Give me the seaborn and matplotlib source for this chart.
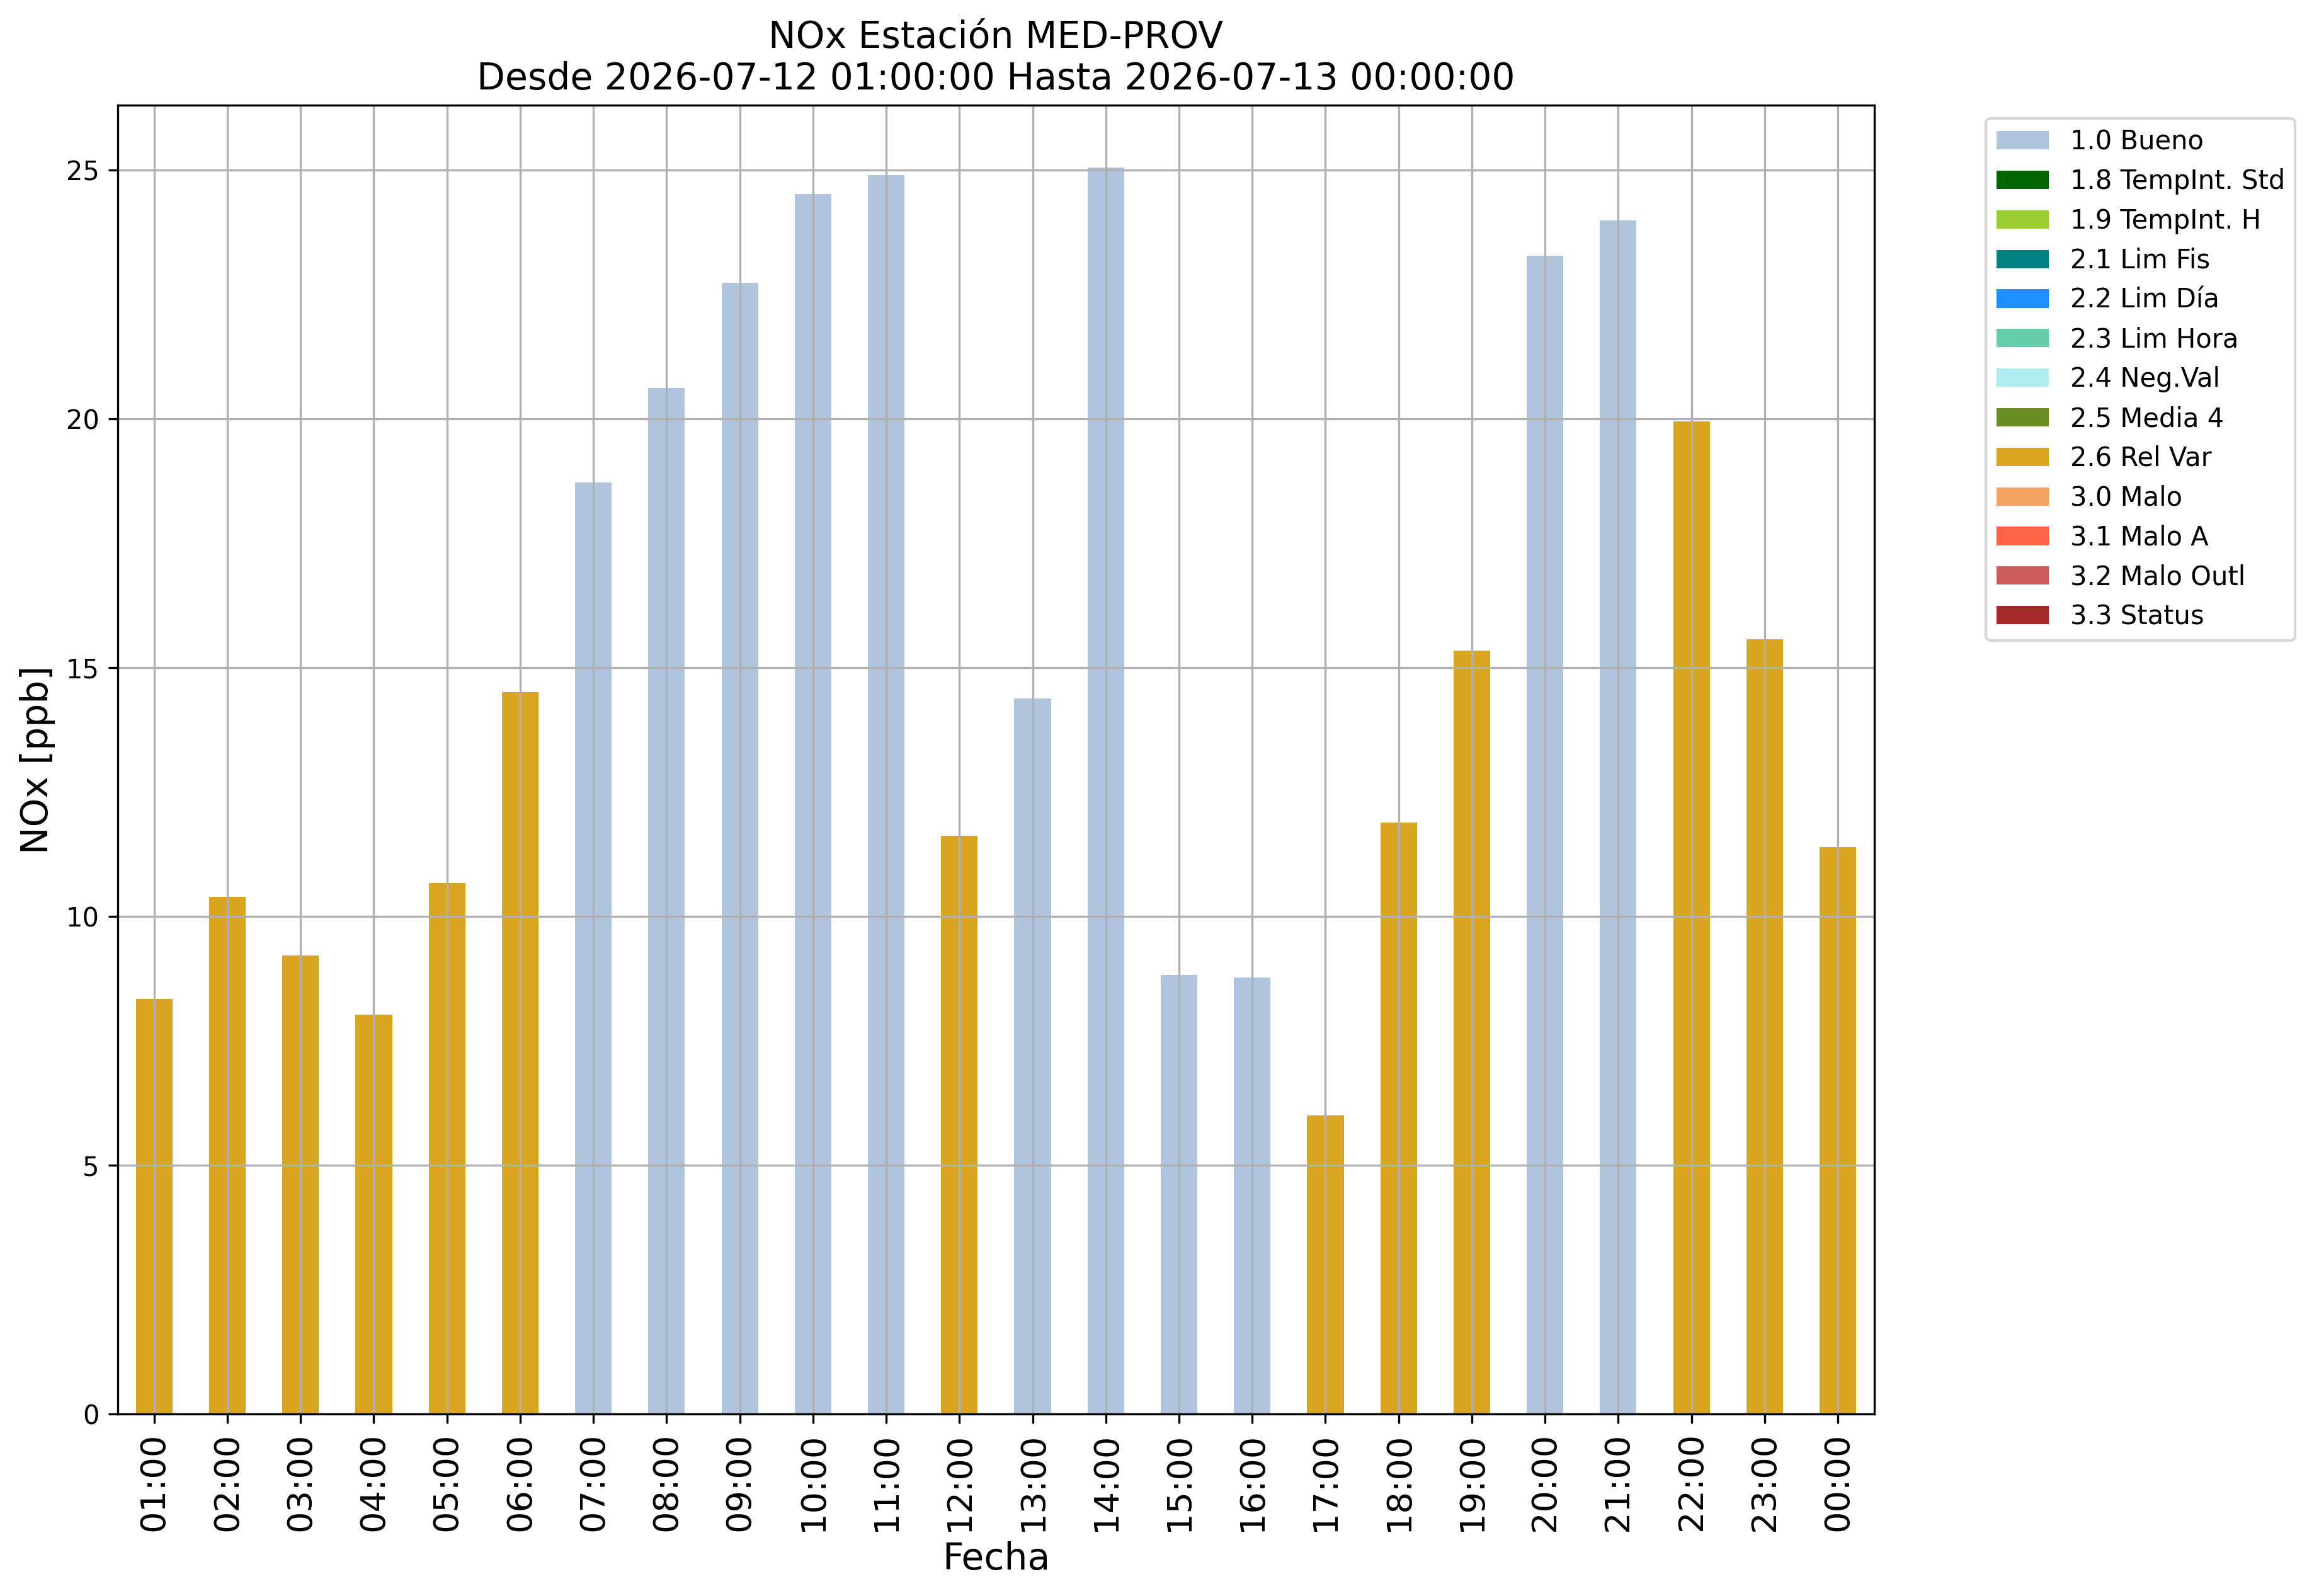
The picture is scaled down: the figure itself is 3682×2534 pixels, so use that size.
import matplotlib
matplotlib.use("Agg")
import matplotlib.pyplot as plt
import matplotlib.patches as mpatches
import pandas as pd
import seaborn as sns

### hourly data
hours = ["01:00", "02:00", "03:00", "04:00", "05:00", "06:00", "07:00", "08:00",
         "09:00", "10:00", "11:00", "12:00", "13:00", "14:00", "15:00", "16:00",
         "17:00", "18:00", "19:00", "20:00", "21:00", "22:00", "23:00", "00:00"]
nox = [8.35, 10.40, 9.22, 8.03, 10.67, 14.51, 18.73, 20.63,
       22.74, 24.52, 24.91, 11.62, 14.39, 25.06, 8.83, 8.77,
       6.00, 11.89, 15.34, 23.28, 23.99, 19.95, 15.58, 11.39]
flags = ["2.6 Rel Var"] * 6 + ["1.0 Bueno"] * 5 + ["2.6 Rel Var"] + ["1.0 Bueno"] * 4 \
        + ["2.6 Rel Var"] * 3 + ["1.0 Bueno"] * 2 + ["2.6 Rel Var"] * 3

### flag legend (all flags are listed, even the unused ones)
flag_labels = ["1.0 Bueno", "1.8 TempInt. Std", "1.9 TempInt. H", "2.1 Lim Fis",
               "2.2 Lim Día", "2.3 Lim Hora", "2.4 Neg.Val", "2.5 Media 4",
               "2.6 Rel Var", "3.0 Malo", "3.1 Malo A", "3.2 Malo Outl", "3.3 Status"]
flag_colors = ["lightsteelblue", "darkgreen", "yellowgreen", "teal",
               "dodgerblue", "mediumaquamarine", "paleturquoise", "olivedrab",
               "goldenrod", "sandybrown", "tomato", "indianred", "brown"]

df = pd.DataFrame({"Fecha": hours, "NOx": nox, "flag": flags})
palette = dict(zip(flag_labels, flag_colors))

plt.rcParams["font.family"] = ["DejaVu Sans"]
fig = plt.figure(figsize=(3682 / 300, 2534 / 300), dpi=300)
ax = fig.add_axes([0.0507, 0.114, 0.7576, 0.8202])

sns.barplot(data=df, x="Fecha", y="NOx", hue="flag", order=hours, hue_order=flag_labels,
            palette=palette, dodge=False, width=0.5, saturation=1, errorbar=None,
            linewidth=0, legend=False, ax=ax)

ax.set_axisbelow("line")
ax.grid(True, color="#b0b0b0", linewidth=0.8)
ax.set_ylim(0, max(nox) * 1.05)
ax.set_xlim(-0.5, len(hours) - 0.5)

ax.set_title("NOx Estación MED-PROV\nDesde 2026-07-12 01:00:00 Hasta 2026-07-13 00:00:00", fontsize=14)
ax.set_xlabel("Fecha", fontsize=14)
ax.set_ylabel("NOx [ppb]", fontsize=14)
ax.tick_params(axis="x", labelrotation=90, labelsize=13)
ax.tick_params(axis="y", labelsize=10)
for spine in ax.spines.values():
    spine.set_color("black")
    spine.set_linewidth(0.8)

handles = [mpatches.Patch(facecolor=c, edgecolor="none", label=l) for l, c in zip(flag_labels, flag_colors)]
ax.legend(handles=handles, bbox_to_anchor=(1.056, 1), loc="upper left", fontsize=10)

fig.savefig("out.png", dpi=300)
